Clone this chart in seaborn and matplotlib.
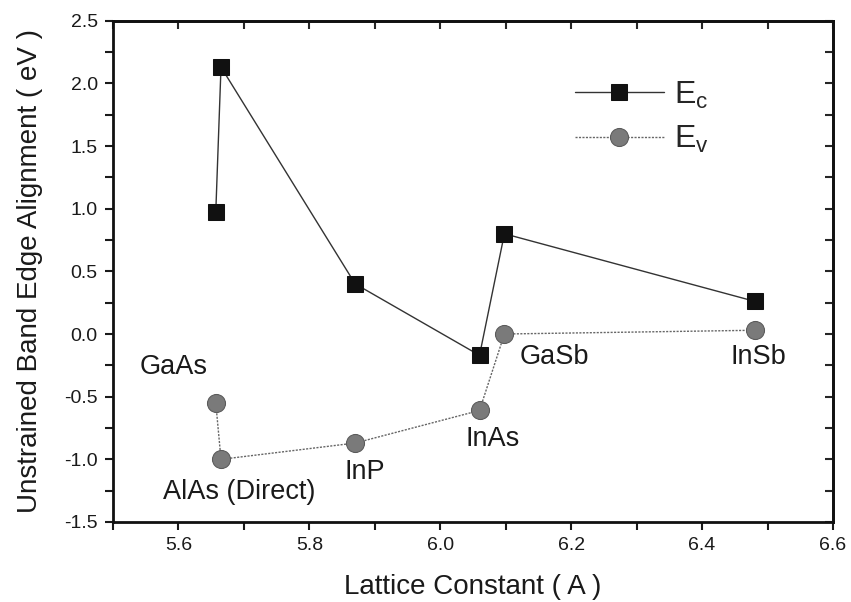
import matplotlib
matplotlib.use("Agg")
import matplotlib.pyplot as plt
from matplotlib.ticker import MultipleLocator
import seaborn as sns
import pandas as pd

# Lattice constants (Angstrom) and unstrained band edges (eV)
materials = ["GaAs", "AlAs (Direct)", "InP", "InAs", "GaSb", "InSb"]
lattice = [5.657, 5.665, 5.870, 6.060, 6.098, 6.481]
ec = [0.97, 2.13, 0.40, -0.17, 0.80, 0.26]
ev = [-0.55, -1.00, -0.87, -0.61, 0.00, 0.03]

sns.set_theme(style="ticks")
plt.rcParams["font.family"] = ["Liberation Sans", "DejaVu Sans"]
plt.rcParams["mathtext.fontset"] = "custom"
plt.rcParams["mathtext.rm"] = "Liberation Sans"
plt.rcParams["axes.unicode_minus"] = False

df = pd.DataFrame({"a": lattice, "Ec": ec, "Ev": ev, "name": materials})

fig = plt.figure(figsize=(8.51, 6.02), dpi=100)
ax = fig.add_axes([0.1328, 0.1329, 0.846, 0.8327])

sns.lineplot(data=df, x="a", y="Ec", sort=False, ax=ax, color="#333333",
             lw=1.0, marker="s", markersize=12, markerfacecolor="#111111",
             markeredgecolor="#111111", label="E$_\\mathrm{c}$")
sns.lineplot(data=df, x="a", y="Ev", sort=False, ax=ax, color="#666666",
             lw=1.0, linestyle=(0, (1.5, 1)), marker="o", markersize=13,
             markerfacecolor="#7a7a7a", markeredgecolor="#5a5a5a",
             label="E$_\\mathrm{v}$")

# material labels placed around the valence band points
offsets = {"GaAs": (-0.064, 0.29), "AlAs (Direct)": (0.028, -0.26),
           "InP": (0.014, -0.23), "InAs": (0.02, -0.23),
           "GaSb": (0.076, -0.18), "InSb": (0.005, -0.21)}
for name, x, y in zip(materials, lattice, ev):
    dx, dy = offsets[name]
    ax.text(x + dx, y + dy, name, ha="center", va="center", fontsize=19.5,
            color="#1a1a1a")

ax.set_xlim(5.5, 6.6)
ax.set_ylim(-1.5, 2.5)
ax.xaxis.set_major_locator(MultipleLocator(0.2))
ax.xaxis.set_minor_locator(MultipleLocator(0.1))
ax.yaxis.set_major_locator(MultipleLocator(0.5))
ax.yaxis.set_minor_locator(MultipleLocator(0.25))
ax.tick_params(which="both", direction="out", length=6, width=1.5,
               labelsize=14, colors="#1a1a1a", pad=5)

# inward ticks on the top and right frame
top = ax.secondary_xaxis("top")
top.xaxis.set_major_locator(MultipleLocator(0.2))
top.xaxis.set_minor_locator(MultipleLocator(0.1))
top.tick_params(which="both", direction="in", length=6, width=1.5,
                labeltop=False)
right = ax.secondary_yaxis("right")
right.yaxis.set_major_locator(MultipleLocator(0.5))
right.yaxis.set_minor_locator(MultipleLocator(0.25))
right.tick_params(which="both", direction="in", length=6, width=1.5,
                  labelright=False)
for s in top.spines.values():
    s.set_linewidth(2)
for s in right.spines.values():
    s.set_linewidth(2)
for s in ax.spines.values():
    s.set_visible(True)
    s.set_linewidth(2)
    s.set_color("#111111")

ax.set_xlabel("Lattice Constant ( A )", fontsize=20, color="#1a1a1a",
              labelpad=14)
ax.set_ylabel("Unstrained Band Edge Alignment ( eV )", fontsize=20,
              color="#1a1a1a", labelpad=15)

ax.legend(loc="upper right", bbox_to_anchor=(0.867, 0.94), frameon=False,
          fontsize=23, handlelength=2.8, handletextpad=0.3,
          labelspacing=0.4)

fig.savefig("out.png", dpi=100)
